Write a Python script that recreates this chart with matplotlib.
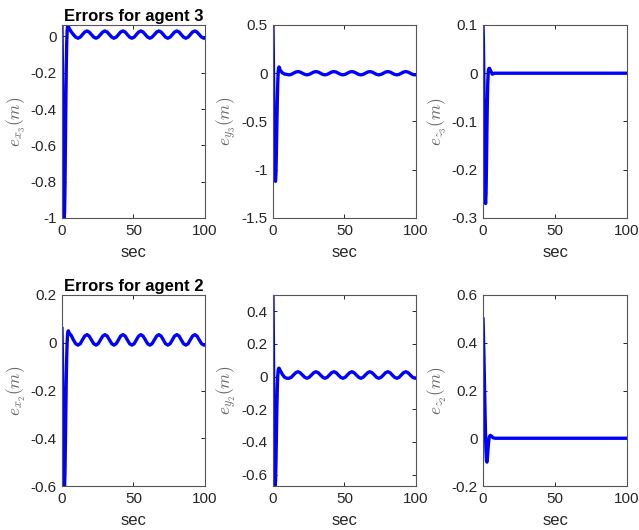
import matplotlib
matplotlib.use('Agg')
import matplotlib.pyplot as plt
import numpy as np

plt.rcParams['font.family'] = ['Liberation Sans', 'DejaVu Sans']
plt.rcParams['mathtext.fontset'] = 'cm'
plt.rcParams['axes.unicode_minus'] = False

# time samples (sec) for the start-up transient
t_start = [0, 0.3, 0.6, 0.9, 1.2, 1.5, 1.8, 2.1, 2.4, 2.7, 3.0, 3.3, 3.6, 3.9, 4.2, 4.5]
# time samples (sec) for the steady part of the x / y errors
t_wave = [4.9, 6.5, 8.0, 9.6, 11.2, 12.8, 14.3, 15.9,
          17.5, 19.0, 20.6, 22.2, 23.8, 25.3, 26.9, 28.5,
          30.0, 31.6, 33.2, 34.8, 36.3, 37.9, 39.5, 41.0,
          42.6, 44.2, 45.7, 47.3, 48.9, 50.5, 52.0, 53.6,
          55.2, 56.7, 58.3, 59.9, 61.5, 63.0, 64.6, 66.2,
          67.7, 69.3, 70.9, 72.4, 74.0, 75.6, 77.2, 78.7,
          80.3, 81.9, 83.4, 85.0, 86.6, 88.2, 89.7, 91.3,
          92.9, 94.4, 96.0, 97.6, 99.2, 100.0]
# time samples (sec) for the settled z errors
t_z3_tail = [5.5, 6.5, 8.0, 100.0]
t_z2_tail = [5.2, 6.0, 7.0, 8.5, 100.0]

# agent 3
ex3_start = [0.05, -0.15, -0.45, -0.75, -0.93, -1.0, -0.97, -0.82,
             -0.6, -0.37, -0.17, -0.04, 0.03, 0.055, 0.06, 0.055]
ex3_wave = [0.045, 0.025, 0.01, -0.004, -0.01, -0.004, 0.01, 0.024,
            0.03, 0.024, 0.01, -0.004, -0.01, -0.004, 0.01, 0.024,
            0.03, 0.024, 0.01, -0.004, -0.01, -0.004, 0.01, 0.024,
            0.03, 0.024, 0.01, -0.004, -0.01, -0.004, 0.01, 0.024,
            0.03, 0.024, 0.01, -0.004, -0.01, -0.004, 0.01, 0.024,
            0.03, 0.024, 0.01, -0.004, -0.01, -0.004, 0.01, 0.024,
            0.03, 0.024, 0.01, -0.004, -0.01, -0.004, 0.01, 0.024,
            0.03, 0.024, 0.01, -0.004, -0.01, -0.008]
ey3_start = [0.5, 0.1, -0.35, -0.75, -1.0, -1.11, -1.12, -1.02,
             -0.8, -0.55, -0.3, -0.12, 0.0, 0.05, 0.065, 0.06]
ey3_wave = [0.035, 0.005, -0.008, -0.012, -0.017, -0.012, 0.0, 0.012,
            0.017, 0.012, 0.0, -0.012, -0.017, -0.012, 0.0, 0.012,
            0.017, 0.012, 0.0, -0.012, -0.017, -0.012, 0.0, 0.012,
            0.017, 0.012, 0.0, -0.012, -0.017, -0.012, 0.0, 0.012,
            0.017, 0.012, 0.0, -0.012, -0.017, -0.012, 0.0, 0.012,
            0.017, 0.012, 0.0, -0.012, -0.017, -0.012, 0.0, 0.012,
            0.017, 0.012, 0.0, -0.012, -0.017, -0.012, 0.0, 0.012,
            0.017, 0.012, 0.0, -0.012, -0.017, -0.015]
ez3_start = [0.1, 0.06, -0.02, -0.12, -0.21, -0.26, -0.27, -0.25,
             -0.19, -0.12, -0.06, -0.02, 0.0, 0.008, 0.01, 0.01]
ez3_tail = [0.004, -0.002, 0.0, 0.0]

# agent 2
ex2_start = [0.06, -0.05, -0.2, -0.38, -0.52, -0.59, -0.6, -0.54,
             -0.42, -0.28, -0.15, -0.06, 0.0, 0.035, 0.048, 0.05]
ex2_wave = [0.042, 0.03, 0.012, -0.004, -0.01, -0.004, 0.012, 0.028,
            0.034, 0.028, 0.012, -0.004, -0.01, -0.004, 0.012, 0.028,
            0.034, 0.028, 0.012, -0.004, -0.01, -0.004, 0.012, 0.028,
            0.034, 0.028, 0.012, -0.004, -0.01, -0.004, 0.012, 0.028,
            0.034, 0.028, 0.012, -0.004, -0.01, -0.004, 0.012, 0.028,
            0.034, 0.028, 0.012, -0.004, -0.01, -0.004, 0.012, 0.028,
            0.034, 0.028, 0.012, -0.004, -0.01, -0.004, 0.012, 0.028,
            0.034, 0.028, 0.012, -0.004, -0.01, -0.008]
ey2_start = [0.5, 0.2, -0.15, -0.45, -0.62, -0.67, -0.64, -0.52,
             -0.36, -0.2, -0.08, 0.0, 0.035, 0.05, 0.052, 0.048]
ey2_wave = [0.04, 0.015, -0.003, -0.01, -0.01, -0.004, 0.01, 0.024,
            0.03, 0.024, 0.01, -0.004, -0.01, -0.004, 0.01, 0.024,
            0.03, 0.024, 0.01, -0.004, -0.01, -0.004, 0.01, 0.024,
            0.03, 0.024, 0.01, -0.004, -0.01, -0.004, 0.01, 0.024,
            0.03, 0.024, 0.01, -0.004, -0.01, -0.004, 0.01, 0.024,
            0.03, 0.024, 0.01, -0.004, -0.01, -0.004, 0.01, 0.024,
            0.03, 0.024, 0.01, -0.004, -0.01, -0.004, 0.01, 0.024,
            0.03, 0.024, 0.01, -0.004, -0.01, -0.008]
ez2_start = [0.5, 0.43, 0.35, 0.26, 0.17, 0.08, 0.0, -0.06,
             -0.095, -0.1, -0.085, -0.06, -0.035, -0.015, 0.0, 0.008]
ez2_tail = [0.012, 0.008, 0.002, 0.0, 0.0]

xticks = [0, 50, 100]
yticks_x3 = [-1, -0.8, -0.6, -0.4, -0.2, 0]
yticks_y3 = [-1.5, -1, -0.5, 0, 0.5]
yticks_z3 = [-0.3, -0.2, -0.1, 0, 0.1]
yticks_x2 = [-0.6, -0.4, -0.2, 0, 0.2]
yticks_y2 = [-0.6, -0.4, -0.2, 0, 0.2, 0.4]
yticks_z2 = [-0.2, 0, 0.2, 0.4, 0.6]

panels = [
    # (position, t, e, ylim, yticks, ylabel, title)
    ([0.097, 0.5887, 0.2238, 0.3642], t_start + t_wave, ex3_start + ex3_wave,
     (-1, 0.063), yticks_x3, r'$e_{x_3}(m)$', 'Errors for agent 3'),
    ([0.4272, 0.5887, 0.2238, 0.3642], t_start + t_wave, ey3_start + ey3_wave,
     (-1.5, 0.5), yticks_y3, r'$e_{y_3}(m)$', None),
    ([0.7559, 0.5887, 0.2254, 0.3642], t_start + t_z3_tail, ez3_start + ez3_tail,
     (-0.3, 0.1), yticks_z3, r'$e_{z_3}(m)$', None),
    ([0.097, 0.083, 0.2238, 0.3604], t_start + t_wave, ex2_start + ex2_wave,
     (-0.6, 0.2), yticks_x2, r'$e_{x_2}(m)$', 'Errors for agent 2'),
    ([0.4272, 0.083, 0.2238, 0.3604], t_start + t_wave, ey2_start + ey2_wave,
     (-0.67, 0.5), yticks_y2, r'$e_{y_2}(m)$', None),
    ([0.7559, 0.083, 0.2254, 0.3604], t_start + t_z2_tail, ez2_start + ez2_tail,
     (-0.2, 0.6), yticks_z2, r'$e_{z_2}(m)$', None),
]

fig = plt.figure(figsize=(6.39, 5.30), dpi=100)
for pos, t, e, ylim, yticks, ylabel, title in panels:
    ax = fig.add_axes(pos)
    ax.plot(np.array(t), np.array(e), color='#0000ff', linewidth=2.4)
    ax.set_xlim(0, 100)
    ax.set_ylim(*ylim)
    ax.set_xticks(xticks)
    ax.set_yticks(yticks)
    ax.set_xticklabels(['%g' % v for v in xticks])
    ax.set_yticklabels(['%g' % v for v in yticks])
    ax.tick_params(direction='in', length=3, width=0.7, top=True, right=True,
                   labelsize=11, colors='#262626', pad=4)
    for side in ax.spines.values():
        side.set_color('#555555')
        side.set_linewidth(0.8)
    ax.set_xlabel('sec', fontsize=12, color='#262626', labelpad=5.5)
    ax.set_ylabel(ylabel, fontsize=12.5, color='#666666', labelpad=2)
    if title:
        ax.set_title(title, fontsize=12, fontweight='bold', pad=3)

plt.savefig('out.png', dpi=100)
